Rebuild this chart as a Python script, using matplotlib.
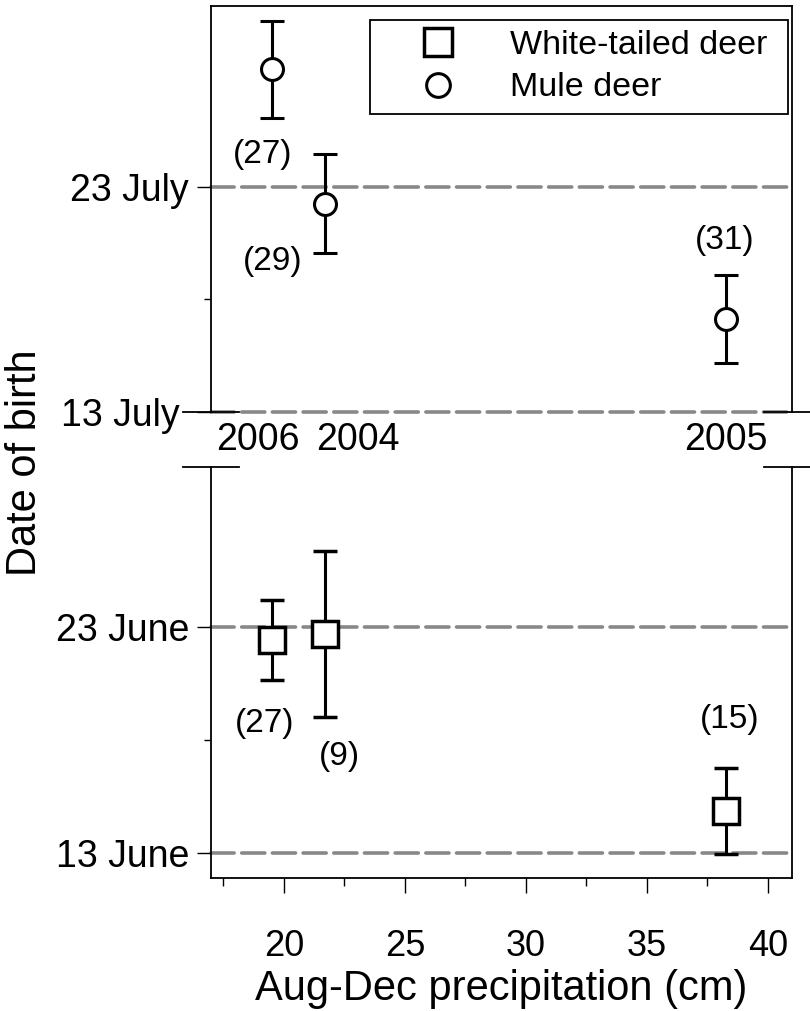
import matplotlib
matplotlib.use('Agg')
import matplotlib.pyplot as plt
from matplotlib.lines import Line2D
import numpy as np

plt.rcParams['font.family'] = ['Liberation Sans', 'DejaVu Sans']

# data (y as day of year: 1 June = 152, 1 July = 182)
years = ['2004', '2005', '2006']
precip = [21.7, 38.27, 19.52]          # Aug-Dec precipitation (cm)
mule_mean = [203.25, 198.13, 209.22]   # mule deer mean birth date
mule_err = [2.2, 1.95, 2.15]
mule_n = [29, 31, 27]
wtd_mean = [173.68, 165.86, 173.42]    # white-tailed deer mean birth date
wtd_err = [3.68, 1.9, 1.77]
wtd_n = [9, 15, 27]

july_ticks = [194, 204]
july_labels = ['13 July', '23 July']
june_ticks = [164, 174]
june_labels = ['13 June', '23 June']

# label offsets in pixels (layout only)
mule_off = [(-52, -58), (-1, 79), (-10, -85)]
wtd_off = [(14, -122), (4, 91), (-8, -83)]
year_off = [(33, 27), (0, 27), (-14, 27)]

fig = plt.figure(figsize=(8.1, 10.11), dpi=100)
ax1 = fig.add_axes([0.2609, 0.59248, 0.7169, 0.40159])
ax2 = fig.add_axes([0.2609, 0.13155, 0.7169, 0.40653])

dash_kw = dict(color='#888888', lw=2.6, dashes=(6.4, 2.1), dash_capstyle='round',
               clip_on=False, zorder=1)
for t in july_ticks:
    ax1.axhline(t, **dash_kw)
for t in june_ticks:
    ax2.axhline(t, **dash_kw)

eb_kw = dict(mfc='white', mec='black', ecolor='black', elinewidth=2.2,
             capsize=8.3, capthick=2.2, zorder=3, ls='none')
ax1.errorbar(precip, mule_mean, yerr=mule_err, marker='o', ms=15.8, mew=2.2, **eb_kw)
ax2.errorbar(precip, wtd_mean, yerr=wtd_err, marker='s', ms=18.2, mew=2.5, **eb_kw)

for x, y, n, off in zip(precip, mule_mean, mule_n, mule_off):
    ax1.annotate('(%d)' % n, (x, y), xytext=off, textcoords='offset pixels',
                 ha='center', va='center', fontsize=24)
for x, y, n, off in zip(precip, wtd_mean, wtd_n, wtd_off):
    ax2.annotate('(%d)' % n, (x, y), xytext=off, textcoords='offset pixels',
                 ha='center', va='center', fontsize=24)
for x, yr, off in zip(precip, years, year_off):
    ax2.annotate(yr, (x, 1.0), xycoords=('data', 'axes fraction'), xytext=off,
                 textcoords='offset pixels', ha='center', va='center', fontsize=27,
                 annotation_clip=False)

for ax in (ax1, ax2):
    ax.set_xlim(17, 41)
    for s in ax.spines.values():
        s.set_linewidth(1.3)
    ax.tick_params(axis='y', which='major', length=10, width=1, pad=6, labelsize=27)
    ax.tick_params(axis='y', which='minor', length=5, width=1)

ax1.set_ylim(194, 212.04)
ax1.set_yticks(july_ticks, july_labels)
ax1.set_yticks([199], minor=True)
ax1.tick_params(axis='x', which='both', bottom=False, labelbottom=False)
ax1.spines['bottom'].set_visible(False)
# "13 July" sits a bit further left, clear of the break mark
ax1.yaxis.get_major_ticks()[0].set_pad(13)

ax2.set_ylim(162.89, 181.08)
ax2.set_yticks(june_ticks, june_labels)
ax2.set_yticks([169], minor=True)
ax2.spines['top'].set_visible(False)
ax2.set_xticks(range(20, 45, 5))
ax2.set_xticks(np.arange(17.5, 40, 5), minor=True)
ax2.tick_params(axis='x', which='major', length=11, width=1, pad=26, labelsize=26)
ax2.tick_params(axis='x', which='minor', length=5.5, width=1)

# axis break marks
for ax, yb in ((ax1, 0), (ax2, 1)):
    for xs in ([-0.0485, 0.0485], [0.9515, 1.0485]):
        ax.plot(xs, [yb, yb], color='black', lw=1.3, transform=ax.transAxes,
                clip_on=False, zorder=4)

handles = [Line2D([], [], ls='none', marker='s', ms=18.2, mfc='white', mec='black', mew=2.5),
           Line2D([], [], ls='none', marker='o', ms=15.8, mfc='white', mec='black', mew=2.2)]
leg = ax1.legend(handles, ['White-tailed deer', 'Mule deer'], loc='upper left',
                 bbox_to_anchor=(0.2733, 0, 0.7198, 0.9655), mode='expand',
                 borderaxespad=0, fontsize=24.5, fancybox=False, edgecolor='black',
                 framealpha=1, borderpad=0.3, labelspacing=0.33, handlelength=3.4,
                 handletextpad=0.41, markerscale=1.08)
leg.get_frame().set_linewidth(1.3)

fig.text(25 / 810, 1 - 463 / 1011, 'Date of birth', rotation=90, ha='center',
         va='center', fontsize=30)
fig.text(501.5 / 810, 1 - 989 / 1011, 'Aug-Dec precipitation (cm)', ha='center',
         va='center', fontsize=30)

fig.savefig('out.png', dpi=100)
